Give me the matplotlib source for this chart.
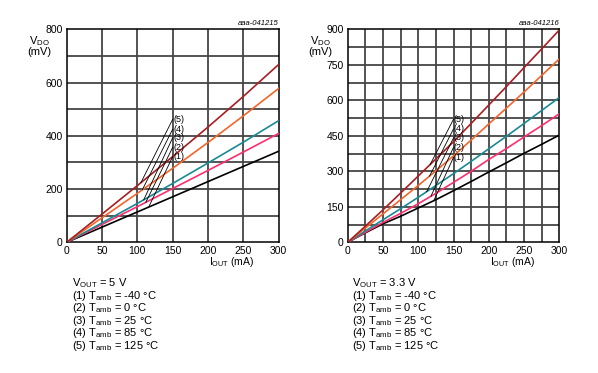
import numpy as np
import matplotlib
matplotlib.use("Agg")
import matplotlib.pyplot as plt

plt.rcParams['font.family'] = ['Liberation Sans', 'DejaVu Sans']
plt.rcParams['mathtext.fontset'] = 'custom'
plt.rcParams['mathtext.rm'] = 'Liberation Sans'

# ---- data ----
# left chart, VOUT = 5 V
iout_5v = [0, 50, 100, 150, 200, 250, 300]
vdo_5v_m40 = [0, 57, 114, 171, 228, 285, 342]
vdo_5v_0 = [0, 67, 134, 202, 270, 339, 409]
vdo_5v_25 = [0, 73, 146, 221, 298, 376, 457]
vdo_5v_85 = [0, 92, 184, 278, 375, 475, 578]
vdo_5v_125 = [0, 106, 213, 322, 433, 548, 668]

# right chart, VOUT = 3.3 V
iout_3v3 = [0, 25, 50, 75, 100, 125, 150, 175, 200, 225, 250, 275, 300]
vdo_3v3_m40 = [0, 40, 78, 110, 145, 180, 218, 257, 297, 336, 376, 414, 453]
vdo_3v3_0 = [0, 42, 84, 122, 163, 207, 253, 300, 350, 396, 445, 493, 543]
vdo_3v3_25 = [0, 48, 95, 142, 190, 240, 290, 342, 395, 448, 502, 557, 612]
vdo_3v3_85 = [0, 60, 120, 180, 240, 302, 365, 432, 500, 567, 635, 705, 775]
vdo_3v3_125 = [0, 68, 137, 208, 280, 352, 425, 502, 580, 658, 738, 817, 897]

curve_labels = ['(1)', '(2)', '(3)', '(4)', '(5)']
colors = ['#000000', '#ff2e6e', '#188a94', '#f5652a', '#a81e22']

legend_temps = ['-40 °C', '0 °C', '25 °C', '85 °C', '125 °C']

W, H = 598, 373
fig = plt.figure(figsize=(W / 100, H / 100), dpi=100)


def make_panel(x0, x1, iout, series, ymax, xgrid, ygrid, ylab_step,
               label_v, anchor_i, code, vout_txt, txt_x):
    ax = fig.add_axes([x0 / W, (H - 242.3) / H, (x1 - x0) / W, 213 / H])
    for vals, c in zip(series, colors):
        ax.plot(iout, vals, color=c, lw=1.2, zorder=3)
    ax.set_xlim(0, 300)
    ax.set_ylim(0, ymax)

    # grid
    for g in np.arange(xgrid, 300, xgrid):
        ax.axvline(g, color='#454545', lw=1.3, zorder=1)
    for g in np.arange(ygrid, ymax, ygrid):
        ax.axhline(g, color='#454545', lw=1.3, zorder=1)

    ax.set_xticks(np.arange(0, 301, 50))
    ax.set_yticks(np.arange(0, ymax + 1, ylab_step))
    ax.tick_params(length=0, labelsize=7.5, pad=3)
    for s in ax.spines.values():
        s.set_linewidth(1.1)

    # leader lines and curve numbers
    for vals, lab, lv, ai in zip(series, curve_labels, label_v, anchor_i):
        v0 = np.interp(ai, iout, vals)
        ax.plot([ai, 150], [v0, lv], color='black', lw=0.6, zorder=4)
        ax.text(150.5, lv, lab, fontsize=6.5, va='center', ha='left', zorder=5)

    ax.text(1.0, 1.012, code, transform=ax.transAxes, ha='right', va='bottom',
            fontsize=5.5, style='italic')
    fig.text((x0 - 27) / W, (H - 41) / H, r'V$_{\mathregular{DO}}$',
             fontsize=8, ha='center', va='center')
    fig.text((x0 - 27) / W, (H - 52) / H, '(mV)', fontsize=8,
             ha='center', va='center')
    fig.text((x1 - 47) / W, (H - 262) / H, r'I$_{\mathregular{OUT}}$ (mA)',
             fontsize=7.5, ha='center', va='center')

    lines = [vout_txt] + ['(%d) T$_{\\mathregular{amb}}$ = %s' % (k + 1, t)
                          for k, t in enumerate(legend_temps)]
    for k, s in enumerate(lines):
        fig.text(txt_x / W, (H - 283 - k * 12.6) / H, s, fontsize=8,
                 ha='left', va='center')
    return ax


make_panel(66.7, 278.7, iout_5v,
           [vdo_5v_m40, vdo_5v_0, vdo_5v_25, vdo_5v_85, vdo_5v_125],
           800, 50, 100, 200,
           [322, 357, 393, 425, 462], [116, 112, 109, 107, 105],
           'aaa-041215', r'V$_{\mathregular{OUT}}$ = 5 V', 72)

make_panel(347.7, 559.3, iout_3v3,
           [vdo_3v3_m40, vdo_3v3_0, vdo_3v3_25, vdo_3v3_85, vdo_3v3_125],
           900, 25, 75, 150,
           [359, 401, 441, 479, 520], [122, 118, 112, 116, 117],
           'aaa-041216', r'V$_{\mathregular{OUT}}$ = 3.3 V', 352)

fig.savefig('out.png', dpi=100)
